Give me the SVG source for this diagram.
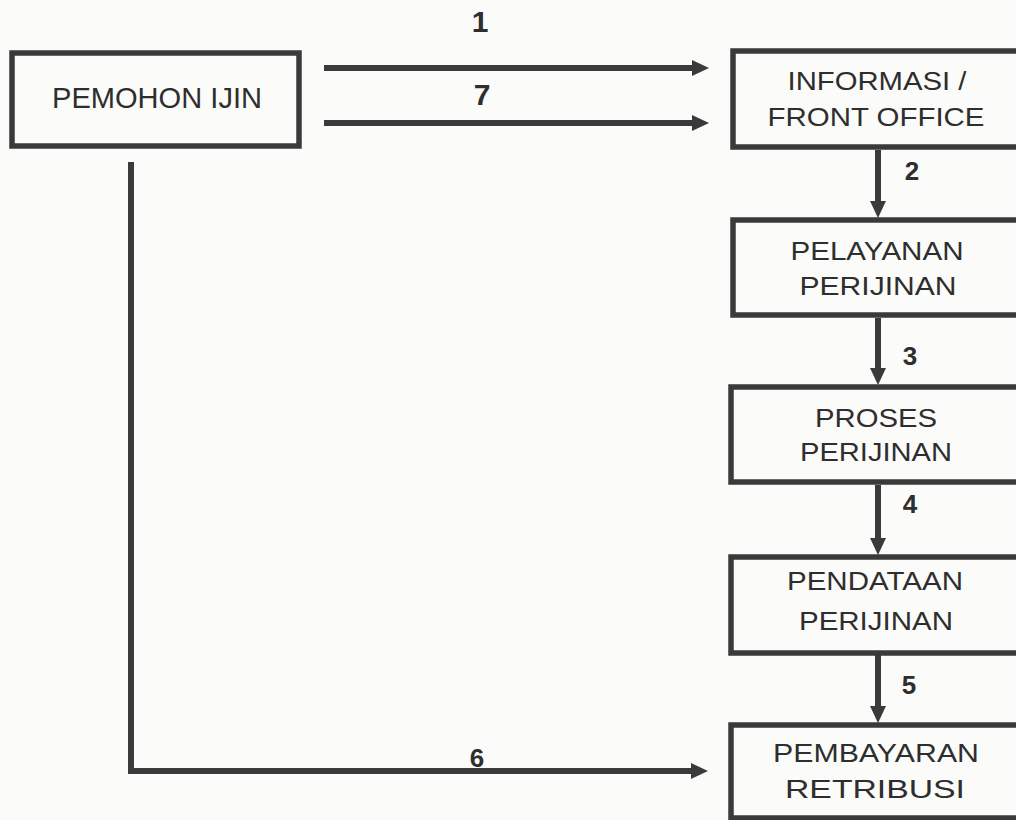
<svg xmlns="http://www.w3.org/2000/svg" width="1016" height="820" viewBox="0 0 1016 820">
  <defs>
    <style>
      .box { fill: none; stroke: #3a3a3a; stroke-width: 5.5; }
      .lbl { font-family: "Liberation Sans", Arial, sans-serif; font-size: 26px; fill: #2e2e2e; text-anchor: middle; }
      .big { font-size: 29px; }
      .num { font-family: "Liberation Sans", Arial, sans-serif; font-size: 26px; font-weight: bold; fill: #2e2e2e; text-anchor: middle; }
      .numbig { font-size: 30px; }
      .conn { fill: none; stroke: #3a3a3a; stroke-width: 6; marker-end: url(#ah); }
    </style>
    <marker id="ah" markerUnits="userSpaceOnUse" markerWidth="18" markerHeight="16" refX="4" refY="8" orient="auto">
      <path d="M0,0 L17,8 L0,16 z" fill="#3a3a3a"/>
    </marker>
  </defs>
  <rect x="0" y="0" width="1016" height="820" fill="#fbfbf9"/>

  <g id="connectors">
    <path class="conn" d="M324,68 H696"/>
    <path class="conn" d="M324,123 H696"/>
    <path class="conn" d="M131,162 V771 H695"/>
    <path class="conn" d="M878,150 V205"/>
    <path class="conn" d="M878,318 V372"/>
    <path class="conn" d="M878,485 V542"/>
    <path class="conn" d="M878,655 V710"/>
    <text class="num numbig" x="480" y="32">1</text>
    <text class="num numbig" x="482" y="105">7</text>
    <text class="num" x="912" y="180">2</text>
    <text class="num" x="910" y="365">3</text>
    <text class="num" x="910" y="513">4</text>
    <text class="num" x="909" y="694">5</text>
    <text class="num" x="477" y="767">6</text>
  </g>

  <g id="pemohon">
    <rect class="box" x="12" y="53" width="287" height="93"/>
    <text class="lbl big" x="157" y="108" textLength="210" lengthAdjust="spacingAndGlyphs">PEMOHON IJIN</text>
  </g>

  <g id="informasi">
    <rect class="box" x="733" y="51" width="288" height="96"/>
    <text class="lbl" x="877" y="90" textLength="179" lengthAdjust="spacingAndGlyphs">INFORMASI /</text>
    <text class="lbl" x="876" y="126" textLength="217" lengthAdjust="spacingAndGlyphs">FRONT OFFICE</text>
  </g>

  <g id="pelayanan">
    <rect class="box" x="733" y="220" width="288" height="95"/>
    <text class="lbl" x="877" y="260" textLength="173" lengthAdjust="spacingAndGlyphs">PELAYANAN</text>
    <text class="lbl" x="878" y="295" textLength="157" lengthAdjust="spacingAndGlyphs">PERIJINAN</text>
  </g>

  <g id="proses">
    <rect class="box" x="731" y="387" width="290" height="95"/>
    <text class="lbl" x="876" y="427" textLength="122" lengthAdjust="spacingAndGlyphs">PROSES</text>
    <text class="lbl" x="876" y="461" textLength="152" lengthAdjust="spacingAndGlyphs">PERIJINAN</text>
  </g>

  <g id="pendataan">
    <rect class="box" x="731" y="557" width="290" height="96"/>
    <text class="lbl" x="875" y="590" textLength="176" lengthAdjust="spacingAndGlyphs">PENDATAAN</text>
    <text class="lbl" x="876" y="630" textLength="154" lengthAdjust="spacingAndGlyphs">PERIJINAN</text>
  </g>

  <g id="pembayaran">
    <rect class="box" x="731" y="725" width="290" height="93"/>
    <text class="lbl" x="876" y="762" textLength="206" lengthAdjust="spacingAndGlyphs">PEMBAYARAN</text>
    <text class="lbl" x="875" y="798" textLength="180" lengthAdjust="spacingAndGlyphs">RETRIBUSI</text>
  </g>
</svg>
